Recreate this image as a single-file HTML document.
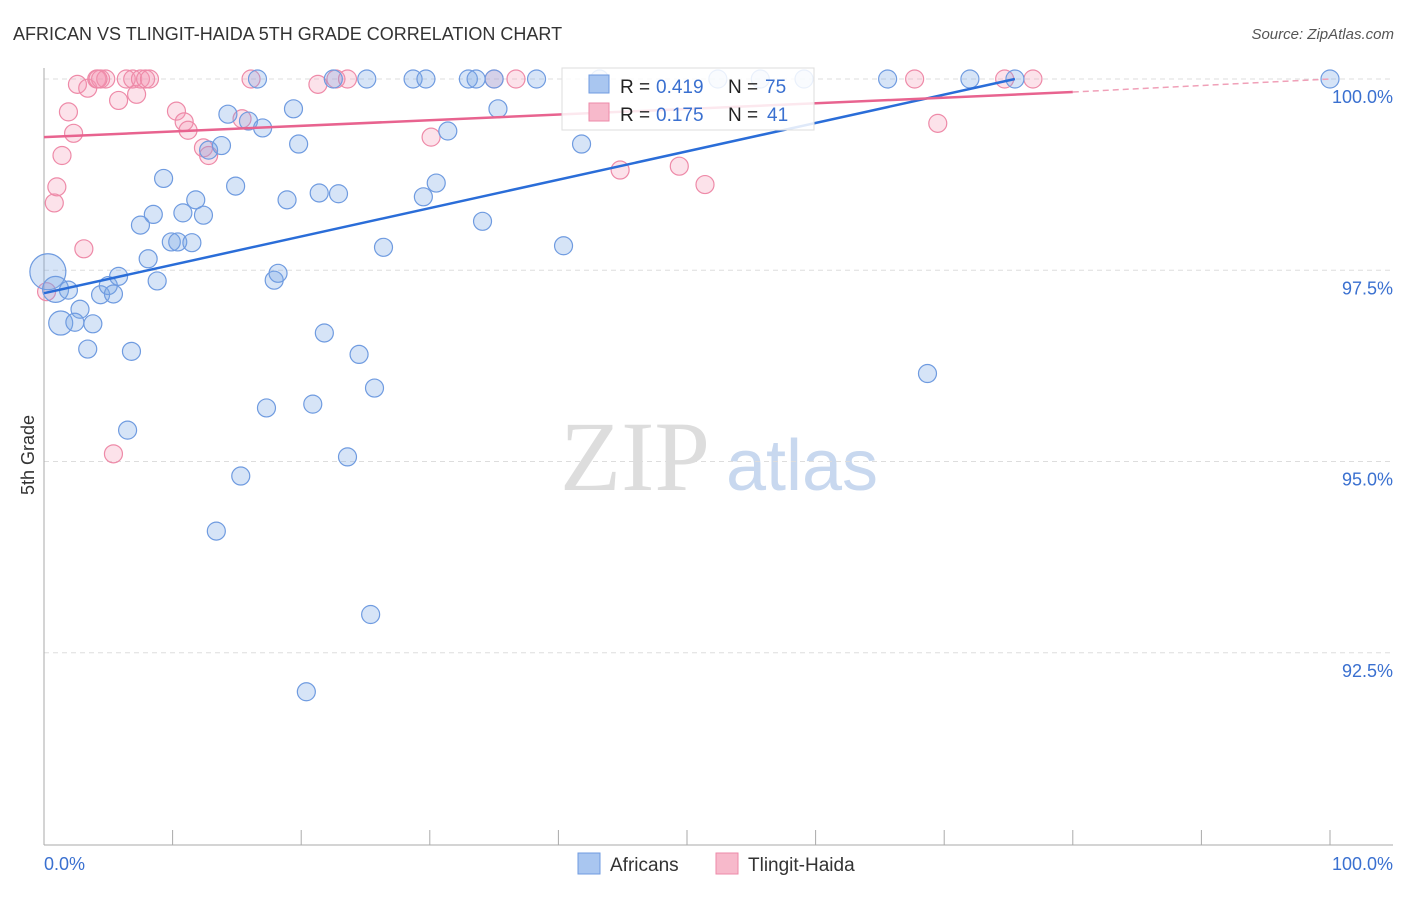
<!DOCTYPE html>
<html><head><meta charset="utf-8"><style>
body{margin:0;background:#fff;font-family:"Liberation Sans",sans-serif;}
svg text{font-family:"Liberation Sans",sans-serif;}
</style></head><body>
<svg id="chart" width="1406" height="892" viewBox="0 0 1406 892">
<text x="13" y="40" font-size="18" fill="#333">AFRICAN VS TLINGIT-HAIDA 5TH GRADE CORRELATION CHART</text>
<text x="1394" y="39" font-size="15" fill="#555" text-anchor="end" font-style="italic">Source: ZipAtlas.com</text>
<text x="34" y="455" font-size="18" fill="#333" transform="rotate(-90 34 455)" text-anchor="middle">5th Grade</text>
<g>
<text x="635" y="490" font-size="100" fill="#ddd" text-anchor="middle" style="font-family:'Liberation Serif',serif">ZIP</text>
<text x="802" y="490" font-size="72" fill="#c8d8ef" text-anchor="middle">atlas</text>
</g>
<g id="grid"></g>
<g id="axes"></g>
<g id="pts"></g>
<g id="lines"></g>
<g>
<rect x="562" y="68" width="252" height="62" fill="#fff" fill-opacity="0.85" stroke="#ddd"/>
<rect x="589" y="75" width="20" height="18" fill="#a9c6f0" stroke="#6f9be0"/>
<rect x="589" y="103" width="20" height="18" fill="#f7b9cb" stroke="#ee8aa8"/>
<text x="620" y="93" font-size="19" fill="#222">R =</text>
<text x="656" y="93" font-size="19" fill="#3a70d0">0.419</text>
<text x="728" y="93" font-size="19" fill="#222">N =</text>
<text x="765" y="93" font-size="19" fill="#3a70d0">75</text>
<text x="620" y="121" font-size="19" fill="#222">R =</text>
<text x="656" y="121" font-size="19" fill="#3a70d0">0.175</text>
<text x="728" y="121" font-size="19" fill="#222">N =</text>
<text x="767" y="121" font-size="19" fill="#3a70d0">41</text>
</g>
<g>
<rect x="578" y="853" width="22" height="21" fill="#a9c6f0" stroke="#6f9be0"/>
<text x="610" y="871" font-size="19" fill="#333">Africans</text>
<rect x="716" y="853" width="22" height="21" fill="#f7b9cb" stroke="#ee8aa8"/>
<text x="748" y="871" font-size="19" fill="#333">Tlingit-Haida</text>
</g>
</svg>
<script>
const yTicks=[100,97.5,95,92.5];
const yTickLabels=["100.0%","97.5%","95.0%","92.5%"];
const xTicks=[0,10,20,30,40,50,60,70,80,90,100];
const xEndLabels=["0.0%","100.0%"];
const africansX=[0.3,0.9,1.3,1.9,2.8,2.4,3.4,3.8,4.4,5.0,5.4,5.8,6.5,6.8,7.5,8.1,8.5,8.8,9.3,9.9,10.4,10.8,11.5,11.8,12.4,12.8,13.8,14.3,14.9,15.3,15.9,13.4,16.6,17.0,17.3,17.9,18.2,18.9,19.4,19.8,20.4,20.9,21.4,21.8,22.5,22.9,23.6,24.5,25.1,25.4,25.7,26.4,28.7,29.5,29.7,30.5,31.4,33.0,33.6,34.1,35.0,35.3,38.3,40.4,41.8,43.2,52.4,55.7,59.1,65.6,68.7,72.0,75.5,100];
const africansY=[97.48,97.25,96.81,97.24,96.99,96.82,96.47,96.8,97.18,97.3,97.19,97.42,95.41,96.44,98.09,97.65,98.23,97.36,98.7,97.87,97.87,98.25,97.86,98.42,98.22,99.07,99.13,99.54,98.6,94.81,99.45,94.09,100,99.36,95.7,97.37,97.46,98.42,99.61,99.15,91.99,95.75,98.51,96.68,100,98.5,95.06,96.4,100,93.0,95.96,97.8,100,98.46,100,98.64,99.32,100,100,98.14,100,99.61,100,97.82,99.15,100,100,100,100,100,96.15,100,100,100];
const africansR=[18,13,12,9,9,9,9,9,9,9,9,9,9,9,9,9,9,9,9,9,9,9,9,9,9,9,9,9,9,9,9,9,9,9,9,9,9,9,9,9,9,9,9,9,9,9,9,9,9,9,9,9,9,9,9,9,9,9,9,9,9,9,9,9,9,9,9,9,9,9,9,9,9,9];
const tlingitX=[0.2,0.8,1.0,1.4,1.9,2.3,2.6,3.1,3.4,4.1,4.4,4.8,5.4,5.8,6.4,6.9,7.2,7.5,7.9,8.2,10.3,10.9,11.2,12.4,12.8,15.4,16.1,21.3,22.7,23.6,30.1,35.0,36.7,44.8,49.4,51.4,67.7,69.5,74.7,76.9,4.2];
const tlingitY=[97.22,98.38,98.59,99.0,99.57,99.29,99.93,97.78,99.88,100,100,100,95.1,99.72,100,100,99.8,100,100,100,99.58,99.44,99.33,99.1,99.0,99.48,100,99.93,100,100,99.24,100,100,98.81,98.86,98.62,100,99.42,100,100,100];
const tlingitR=Array(41).fill(9);
const africansTrend=[0,97.2,75.5,100];
const tlingitTrend=[0,99.24,80,99.83,100,100];
const X=v=>44+v*12.86, Y=v=>79+(100-v)*76.5;
const NS="http://www.w3.org/2000/svg";
function mk(t,a,p){const e=document.createElementNS(NS,t);for(const k in a)e.setAttribute(k,a[k]);p.appendChild(e);return e;}
const grid=document.getElementById('grid'),axes=document.getElementById('axes'),pts=document.getElementById('pts'),lines=document.getElementById('lines');
yTicks.forEach((t,i)=>{
 const l=mk('line',{x1:44,x2:1393,y1:Y(t),y2:Y(t),stroke:'#ddd','stroke-dasharray':'5,4'},grid);
 
 
 const tx=mk('text',{x:1393,y:Y(t)+24,'font-size':18,fill:'#3a70d0','text-anchor':'end'},axes);
 tx.textContent=yTickLabels[i];
 
 
});
const ya=mk('line',{x1:44,x2:44,y1:68,y2:845,stroke:'#aaa'},axes);


const xa=mk('line',{x1:44,x2:1393,y1:845,y2:845,stroke:'#aaa'},axes);


xTicks.forEach(t=>{
 const l=mk('line',{x1:X(t),x2:X(t),y1:830,y2:845,stroke:'#aaa'},axes);
 
 
});
const xl0=mk('text',{x:44,y:870,'font-size':18,fill:'#3a70d0'},axes);xl0.textContent=xEndLabels[0];


const xl1=mk('text',{x:1393,y:870,'font-size':18,fill:'#3a70d0','text-anchor':'end'},axes);xl1.textContent=xEndLabels[1];


tlingitX.forEach((x,i)=>{
 const c=mk('circle',{cx:X(x),cy:Y(tlingitY[i]),r:tlingitR[i],fill:'rgba(244,150,180,0.28)',stroke:'#ee8aa8','stroke-width':1.2},pts);
 
 
});
africansX.forEach((x,i)=>{
 const c=mk('circle',{cx:X(x),cy:Y(africansY[i]),r:africansR[i],fill:'rgba(120,165,230,0.3)',stroke:'#6f9be0','stroke-width':1.2},pts);
 
 
});
const bl=mk('line',{x1:X(africansTrend[0]),y1:Y(africansTrend[1]),x2:X(africansTrend[2]),y2:Y(africansTrend[3]),stroke:'#2a6dd8','stroke-width':2.5},lines);


const pl=mk('line',{x1:X(tlingitTrend[0]),y1:Y(tlingitTrend[1]),x2:X(tlingitTrend[2]),y2:Y(tlingitTrend[3]),stroke:'#e8638f','stroke-width':2.5},lines);


const pd=mk('line',{x1:X(tlingitTrend[2]),y1:Y(tlingitTrend[3]),x2:X(tlingitTrend[4]),y2:Y(tlingitTrend[5]),stroke:'#f0a0b8','stroke-width':1.5,'stroke-dasharray':'6,4'},lines);


</script>
</body></html>
